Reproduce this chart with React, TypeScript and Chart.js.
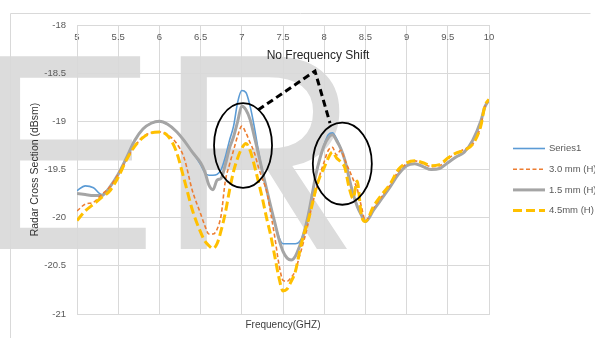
import React, { useEffect, useRef } from "react";
import { Chart, registerables } from "chart.js";

Chart.register(...registerables);

const FONT = "'Liberation Sans', Arial, sans-serif";

// Frequency samples (GHz) shared by all four traces
const freqGHz = [
  5.0, 5.1, 5.2, 5.3, 5.4, 5.5, 5.6, 5.7, 5.8, 5.9,
  6.0, 6.1, 6.2, 6.3, 6.4, 6.5, 6.55, 6.6, 6.65, 6.7,
  6.75, 6.8, 6.85, 6.9, 6.95, 7.0, 7.05, 7.1, 7.15, 7.2,
  7.25, 7.3, 7.35, 7.4, 7.45, 7.5, 7.55, 7.6, 7.65, 7.7,
  7.75, 7.8, 7.85, 7.9, 7.95, 8.0, 8.05, 8.1, 8.15, 8.2,
  8.25, 8.3, 8.35, 8.4, 8.45, 8.5, 8.6, 8.7, 8.8, 8.9,
  9.0, 9.1, 9.2, 9.3, 9.4, 9.5, 9.6, 9.7, 9.8, 9.9,
  9.95, 10.0,
];

// Radar cross section (dBsm)
const series1 = [
  -19.72, -19.67, -19.69, -19.76, -19.68, -19.55, -19.38, -19.2, -19.08, -19.02,
  -19.0, -19.03, -19.1, -19.2, -19.32, -19.45, -19.53, -19.56, -19.56, -19.55,
  -19.5, -19.37, -19.2, -19.05, -18.8, -18.68, -18.7, -18.84, -19.05, -19.3,
  -19.52, -19.7, -19.88, -20.05, -20.2, -20.27, -20.27, -20.27, -20.27, -20.25,
  -20.17, -20.0, -19.78, -19.55, -19.38, -19.24, -19.14, -19.12, -19.18, -19.28,
  -19.4, -19.58, -19.75, -19.88, -19.97, -20.04, -19.92, -19.8, -19.68, -19.55,
  -19.46, -19.44, -19.47, -19.5, -19.49, -19.43, -19.37, -19.32, -19.2, -19.0,
  -18.85, -18.78,
];

const thick30 = [
  -19.93, -19.86, -19.84, -19.76, -19.68, -19.55, -19.4, -19.26, -19.16, -19.12,
  -19.11, -19.14, -19.22, -19.38, -19.72, -19.96, -20.08, -20.17, -20.17, -20.12,
  -19.97, -19.62, -19.45, -19.3, -19.15, -19.05, -19.12, -19.22, -19.32, -19.47,
  -19.6, -19.72, -19.95, -20.2, -20.48, -20.65, -20.66, -20.62, -20.55, -20.4,
  -20.25, -20.08, -19.88, -19.72, -19.55, -19.42, -19.3, -19.27, -19.35, -19.3,
  -19.4, -19.5, -19.6, -19.7, -19.88, -20.03, -19.9, -19.78, -19.66, -19.52,
  -19.44, -19.41, -19.44, -19.47, -19.46, -19.39, -19.33, -19.29, -19.24, -19.05,
  -18.85, -18.78,
];

const thick15 = [
  -19.75, -19.76, -19.77, -19.77, -19.68, -19.55, -19.38, -19.2, -19.08, -19.02,
  -19.0, -19.03, -19.1, -19.2, -19.32, -19.43, -19.52, -19.66, -19.71, -19.61,
  -19.59, -19.45, -19.28, -19.16, -19.0, -18.84, -18.88, -18.98, -19.15, -19.33,
  -19.52, -19.7, -19.88, -20.05, -20.22, -20.35, -20.42, -20.44, -20.4, -20.3,
  -20.17, -20.0, -19.78, -19.55, -19.38, -19.25, -19.17, -19.14, -19.2, -19.28,
  -19.4, -19.58, -19.75, -19.88, -19.97, -20.04, -19.92, -19.8, -19.68, -19.55,
  -19.46, -19.44, -19.47, -19.5, -19.49, -19.43, -19.37, -19.32, -19.2, -19.0,
  -18.85, -18.78,
];

const thick45 = [
  -20.03, -19.93, -19.86, -19.79, -19.72, -19.58, -19.4, -19.26, -19.17, -19.12,
  -19.11, -19.15, -19.3, -19.6, -19.92, -20.15, -20.24, -20.29, -20.32, -20.27,
  -20.13, -19.95, -19.72, -19.52, -19.38, -19.28, -19.23, -19.3, -19.45, -19.62,
  -19.8, -20.0, -20.18, -20.4, -20.62, -20.76, -20.74, -20.66, -20.56, -20.36,
  -20.18, -20.05, -19.88, -19.7, -19.57, -19.48, -19.38, -19.32, -19.38, -19.42,
  -19.48, -19.68, -19.8, -19.62, -19.97, -20.04, -19.88, -19.76, -19.65, -19.5,
  -19.43, -19.41, -19.43, -19.46, -19.45, -19.38, -19.33, -19.3, -19.24, -19.05,
  -18.84, -18.77,
];

const seriesNames = ["Series1", "3.0 mm (H)", "1.5 mm (H)", "4.5mm (H)"];
const axisTitles = { x: "Frequency(GHZ)", y: "Radar Cross Section (dBsm)" };
const noteText = "No Frequency Shift";
const backdropText = "ER";

const toPoints = (ys: number[]) => freqGHz.map((f, i) => ({ x: f, y: ys[i] }));
const plainNumber = (v: any) => String(Math.round(Number(v) * 10) / 10);

// Faint lettering behind everything plus the outer chart frame
const backdropPlugin = {
  id: "backdrop",
  beforeDraw(chart: any) {
    const { ctx } = chart;
    ctx.save();
    ctx.fillStyle = "#dcdcdc";
    ctx.font = `280px ${FONT}`;
    ctx.textBaseline = "alphabetic";
    ctx.textAlign = "left";
    ctx.fillText(backdropText, -29, 249);
    ctx.strokeStyle = "#d9d9d9";
    ctx.lineWidth = 1;
    ctx.beginPath();
    ctx.moveTo(10.5, 345);
    ctx.lineTo(10.5, 13.5);
    ctx.lineTo(590.5, 13.5);
    ctx.stroke();
    ctx.restore();
  },
};

// Circles around the resonances, the dashed pointer and its caption
const notePlugin = {
  id: "notes",
  afterDatasetsDraw(chart: any) {
    const { ctx } = chart;
    const xs = chart.scales.x;
    const ys = chart.scales.y;
    const px = (v: number) => xs.getPixelForValue(v);
    const py = (v: number) => ys.getPixelForValue(v);
    ctx.save();
    ctx.strokeStyle = "#000";
    ctx.lineWidth = 1.8;
    const rings = [
      { cx: 7.015, cy: -19.25, rx: 0.352, ry: 0.44 },
      { cx: 8.22, cy: -19.44, rx: 0.358, ry: 0.426 },
    ];
    rings.forEach((r) => {
      ctx.beginPath();
      ctx.ellipse(
        px(r.cx),
        py(r.cy),
        Math.abs(px(r.cx + r.rx) - px(r.cx)),
        Math.abs(py(r.cy + r.ry) - py(r.cy)),
        0,
        0,
        Math.PI * 2
      );
      ctx.stroke();
    });
    const pointer = [
      [7.197, -18.883],
      [7.888, -18.478],
      [8.07, -19.018],
    ];
    ctx.lineWidth = 3;
    ctx.setLineDash([7, 4]);
    ctx.beginPath();
    pointer.forEach(([vx, vy], i) => {
      if (i === 0) ctx.moveTo(px(vx), py(vy));
      else ctx.lineTo(px(vx), py(vy));
    });
    ctx.stroke();
    ctx.setLineDash([]);
    ctx.fillStyle = "#262626";
    ctx.font = `12px ${FONT}`;
    ctx.textAlign = "center";
    ctx.textBaseline = "middle";
    ctx.fillText(noteText, px(7.925), py(-18.32));
    ctx.restore();
  },
};

// Legend column on the right
const sideLegendPlugin = {
  id: "sideLegend",
  afterDraw(chart: any) {
    const { ctx } = chart;
    ctx.save();
    chart.data.datasets.forEach((ds: any, i: number) => {
      const y = 148.5 + i * 20.7;
      ctx.strokeStyle = ds.borderColor;
      ctx.lineWidth = ds.borderWidth;
      ctx.setLineDash(ds.borderDash || []);
      ctx.beginPath();
      ctx.moveTo(513, y);
      ctx.lineTo(545, y);
      ctx.stroke();
      ctx.setLineDash([]);
      ctx.fillStyle = "#595959";
      ctx.font = `9.5px ${FONT}`;
      ctx.textAlign = "left";
      ctx.textBaseline = "middle";
      ctx.fillText(ds.label, 549, y);
    });
    ctx.restore();
  },
};

export default function App() {
  const ref = useRef<HTMLCanvasElement>(null);

  useEffect(() => {
    const canvas = ref.current;
    if (!canvas) return;
    const chart = new Chart(canvas, {
      type: "line",
      data: {
        datasets: [
          {
            label: seriesNames[0],
            data: toPoints(series1),
            borderColor: "#5B9BD5",
            borderWidth: 1.6,
            order: 3,
          },
          {
            label: seriesNames[1],
            data: toPoints(thick30),
            borderColor: "#ED7D31",
            borderWidth: 1.6,
            borderDash: [4, 2.5],
            order: 1,
          },
          {
            label: seriesNames[2],
            data: toPoints(thick15),
            borderColor: "#A5A5A5",
            borderWidth: 3,
            order: 2,
          },
          {
            label: seriesNames[3],
            data: toPoints(thick45),
            borderColor: "#FFC000",
            borderWidth: 3,
            borderDash: [9, 4],
            order: 0,
          },
        ] as any,
      },
      options: {
        responsive: false,
        animation: false,
        devicePixelRatio: 1,
        layout: { padding: { top: 25, right: 106, left: 0, bottom: 0 } },
        elements: {
          point: { radius: 0, hoverRadius: 0 },
          line: { cubicInterpolationMode: "monotone", fill: false },
        },
        plugins: { legend: { display: false }, tooltip: { enabled: false } },
        scales: {
          x: {
            type: "linear",
            position: "bottom",
            min: 5,
            max: 10,
            ticks: { stepSize: 0.5, display: false },
            grid: { color: "#d9d9d9", drawTicks: false },
            border: { color: "#d9d9d9" },
            title: {
              display: true,
              text: axisTitles.x,
              color: "#404040",
              font: { family: FONT, size: 10 },
              padding: { top: 0, bottom: 7 },
            },
            afterFit: (s: any) => {
              s.height = 24;
            },
          },
          xTop: {
            type: "linear",
            position: "top",
            min: 5,
            max: 10,
            ticks: {
              stepSize: 0.5,
              mirror: true,
              padding: 7,
              color: "#595959",
              font: { family: FONT, size: 9.5 },
              maxRotation: 0,
              autoSkip: false,
              callback: plainNumber,
            },
            grid: { display: false, drawTicks: false },
            border: { display: false },
            afterFit: (s: any) => {
              s.height = 0;
            },
          },
          y: {
            type: "linear",
            position: "left",
            min: -21,
            max: -18,
            ticks: {
              stepSize: 0.5,
              padding: 11,
              color: "#595959",
              font: { family: FONT, size: 9.5 },
              callback: plainNumber,
            },
            grid: { color: "#d9d9d9", drawTicks: false },
            border: { color: "#d9d9d9" },
            title: {
              display: true,
              text: axisTitles.y,
              color: "#333333",
              font: { family: FONT, size: 10.5 },
              padding: { top: 29, bottom: 0 },
            },
            afterFit: (s: any) => {
              s.width = 77;
            },
          },
        },
      } as any,
      plugins: [backdropPlugin, notePlugin, sideLegendPlugin],
    });
    return () => chart.destroy();
  }, []);

  return (
    <div
      style={{
        position: "fixed",
        left: 0,
        top: 0,
        width: 595,
        height: 338,
        background: "#fff",
        overflow: "hidden",
      }}
    >
      <canvas ref={ref} width={595} height={338} style={{ display: "block" }} />
    </div>
  );
}
